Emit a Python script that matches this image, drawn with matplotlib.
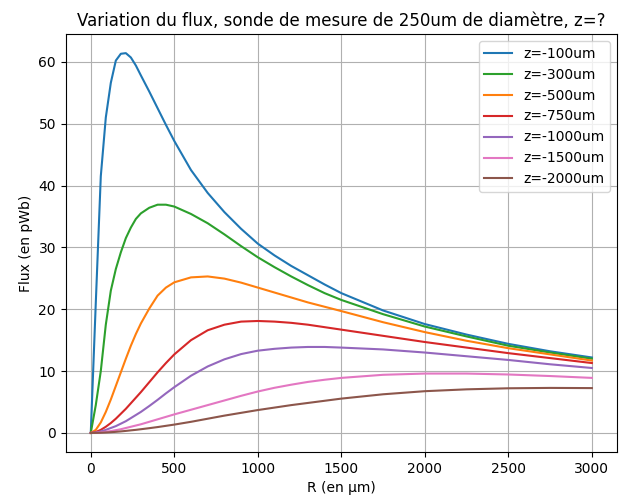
import matplotlib
matplotlib.use('Agg')
import matplotlib.pyplot as plt

# DATA ------------------------------------------------------------------------

R = [0, 30, 60, 90, 120, 150, 180, 210, 240, 270, 300, 350, 400, 450, 500,
     600, 700, 800, 900, 1000, 1100, 1200, 1300, 1400, 1500, 1750, 2000,
     2250, 2500, 2750, 3000]

flux_100 = [0, 21, 41.5, 51, 56.6, 60.2, 61.3, 61.4, 60.7, 59.4, 57.8, 55.2,
            52.5, 49.8, 47.2, 42.5, 38.8, 35.7, 33.0, 30.6, 28.7, 27.0, 25.5,
            24.0, 22.6, 19.8, 17.6, 15.9, 14.4, 13.2, 12.2]
flux_300 = [0, 4.5, 10, 17.5, 23, 26.5, 29.2, 31.5, 33.2, 34.6, 35.5, 36.4,
            36.9, 36.9, 36.6, 35.4, 33.9, 32.1, 30.2, 28.4, 26.8, 25.3, 23.9,
            22.6, 21.5, 19.2, 17.2, 15.6, 14.1, 13.0, 12.0]
flux_500 = [0, 0.5, 1.7, 3.4, 5.4, 7.6, 9.8, 12.0, 14.1, 16.0, 17.7, 20.1,
            22.2, 23.5, 24.35, 25.15, 25.3, 24.95, 24.3, 23.5, 22.7, 21.9,
            21.1, 20.4, 19.7, 17.9, 16.3, 14.9, 13.7, 12.7, 11.7]
flux_750 = [0, 0.15, 0.5, 1.0, 1.6, 2.3, 3.1, 3.9, 4.8, 5.7, 6.6, 8.2,
            9.8, 11.3, 12.7, 15.0, 16.6, 17.5, 18.0, 18.1, 18.0, 17.8, 17.5,
            17.1, 16.7, 15.7, 14.7, 13.8, 12.9, 12.1, 11.3]
flux_1000 = [0, 0.05, 0.25, 0.5, 0.8, 1.1, 1.5, 1.9, 2.4, 2.9, 3.4, 4.35,
             5.35, 6.4, 7.4, 9.25, 10.75, 11.9, 12.75, 13.3, 13.6, 13.8, 13.9,
             13.9, 13.8, 13.5, 13.0, 12.4, 11.8, 11.1, 10.5]
flux_1500 = [0, 0.02, 0.08, 0.2, 0.3, 0.45, 0.6, 0.8, 1.0, 1.2, 1.4, 1.8,
             2.2, 2.6, 3.0, 3.75, 4.5, 5.25, 6.0, 6.7, 7.3, 7.8, 8.25, 8.6,
             8.9, 9.4, 9.6, 9.6, 9.45, 9.2, 8.9]
flux_2000 = [0, 0.01, 0.03, 0.07, 0.12, 0.18, 0.25, 0.33, 0.42, 0.5, 0.6,
             0.77, 0.95, 1.15, 1.35, 1.8, 2.3, 2.8, 3.25, 3.7, 4.1, 4.5, 4.85,
             5.2, 5.55, 6.25, 6.75, 7.05, 7.22, 7.28, 7.25]

labels = ['z=-100um', 'z=-300um', 'z=-500um', 'z=-750um', 'z=-1000um',
          'z=-1500um', 'z=-2000um']
series = [flux_100, flux_300, flux_500, flux_750, flux_1000, flux_1500,
          flux_2000]
colors = ['C0', 'C2', 'C1', 'C3', 'C4', 'C6', 'C5']

# PLOT ------------------------------------------------------------------------

fig, ax = plt.subplots(figsize=(6.38, 4.95), dpi=100)
fig.subplots_adjust(left=0.103, right=0.967, top=0.931, bottom=0.087)

for values, label, color in zip(series, labels, colors):
    ax.plot(R, values, color=color, label=label)

ax.set_title('Variation du flux, sonde de mesure de 250um de diamètre, z=?')
ax.set_xlabel('R (en µm)')
ax.set_ylabel('Flux (en pWb)')
ax.grid(True)
ax.legend(loc='upper right')

fig.savefig('out.png')
